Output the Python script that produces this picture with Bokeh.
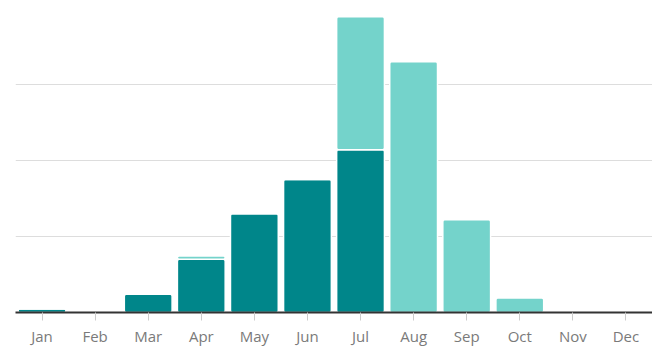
from bokeh.plotting import figure
from bokeh.models import FixedTicker, ColumnDataSource
from bokeh.embed import file_html
from bokeh.resources import INLINE

months = ["Jan", "Feb", "Mar", "Apr", "May", "Jun", "Jul", "Aug", "Sep", "Oct", "Nov", "Dec"]
dark = [0.45, 0, 2.4, 7.0, 13.0, 17.5, 21.4, 0, 0, 0, 0, 0]
light = [0, 0, 0, 0.45, 0, 0, 17.5, 33.0, 12.2, 1.9, 0, 0]

src = ColumnDataSource(data=dict(month=months, dark=dark, light=light))

p = figure(x_range=months, y_range=(0, 40), width=652, height=353,
           output_backend="svg", toolbar_location=None,
           min_border_left=15, min_border_right=0, min_border_top=8, min_border_bottom=41)
p.outline_line_color = None
p.background_fill_color = "white"
p.x_range.range_padding = 0

p.vbar_stack(["dark", "light"], x="month", width=0.9, source=src,
             color=["#00868A", "#74D3CB"], line_color="white", line_width=1.5,
             border_radius=2)

p.yaxis.visible = False
p.yaxis.ticker = FixedTicker(ticks=[10, 20, 30])
p.ygrid.ticker = FixedTicker(ticks=[10, 20, 30])
p.ygrid.grid_line_color = "#dddddd"
p.ygrid.grid_line_width = 1
p.xgrid.grid_line_color = None

p.xaxis.axis_line_color = "#333333"
p.xaxis.axis_line_width = 2
p.xaxis.major_tick_line_color = "#cccccc"
p.xaxis.major_tick_out = 8
p.xaxis.major_tick_in = 0
p.xaxis.minor_tick_line_color = None
p.xaxis.major_label_text_color = "#7a7a7a"
p.xaxis.major_label_text_font = "Open Sans"
p.xaxis.major_label_text_font_size = "15px"
p.xaxis.major_label_standoff = 5

open("out.html", "w").write(file_html(p, INLINE))
